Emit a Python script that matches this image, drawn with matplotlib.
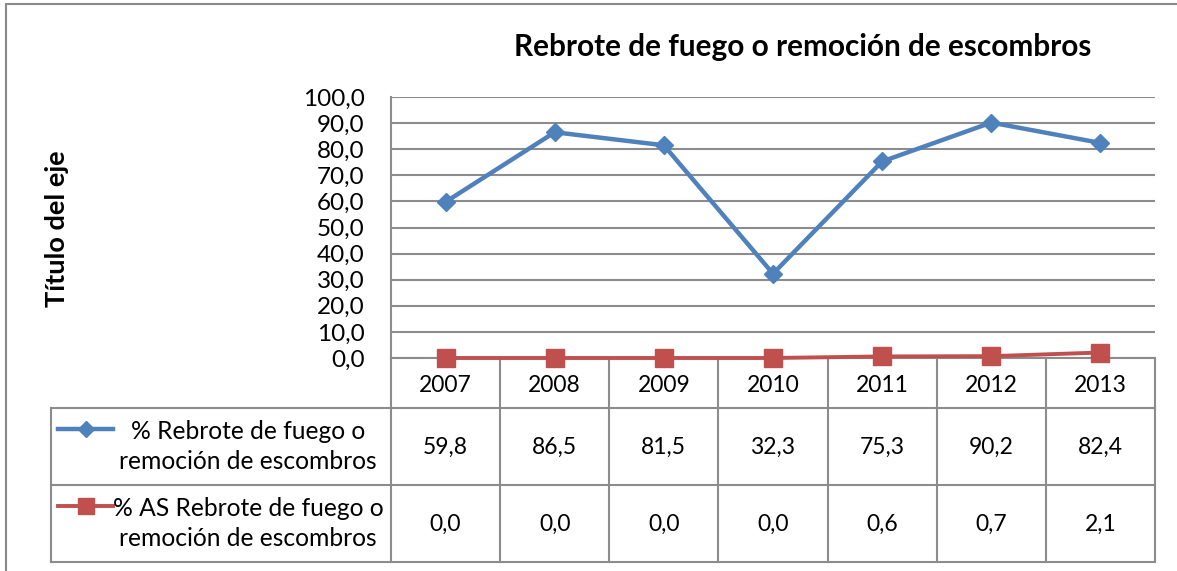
import numpy as np
import matplotlib
matplotlib.use("Agg")
import matplotlib.pyplot as plt
import matplotlib.transforms as mtransforms
from matplotlib.lines import Line2D
from matplotlib.patches import Rectangle

plt.rcParams['font.family'] = ['Lato', 'DejaVu Sans']

# data
years = ['2007', '2008', '2009', '2010', '2011', '2012', '2013']
rebrote = [59.8, 86.5, 81.5, 32.3, 75.3, 90.2, 82.4]
as_rebrote = [0.0, 0.0, 0.0, 0.0, 0.6, 0.7, 2.1]
series_names = ['% Rebrote de fuego o\nremoción de escombros',
                '% AS Rebrote de fuego o\nremoción de escombros']
title = 'Rebrote de fuego o remoción de escombros'
ylabel = 'Título del eje'
yticks = np.arange(0, 101, 10)

blue = '#4F81BD'
red = '#C0504D'
grid_col = '#8C8C8C'

W, H = 1177, 571
fig = plt.figure(figsize=(W / 100, H / 100), dpi=100)

# outer chart frame (right/bottom edges run off the picture)
fig.patches.append(Rectangle((6 / W, -0.1), 1.2, (H - 4) / H + 0.1, transform=fig.transFigure,
                             fill=False, edgecolor='#8A8A8A', linewidth=1.5))

# plot area in pixels
px_l, px_r, px_t, px_b = 391, 1155, 97, 358
ax = fig.add_axes([px_l / W, (H - px_b) / H, (px_r - px_l) / W, (px_b - px_t) / H])
x = np.arange(len(years))
ax.set_xlim(-0.5, len(years) - 0.5)
ax.set_ylim(0, 100)
ax.set_yticks(yticks)
ax.set_yticklabels([f'{v:.1f}'.replace('.', ',') for v in yticks], fontsize=17.5)
ax.tick_params(axis='y', length=0, pad=19)
ax.set_xticks([])
ax.grid(axis='y', color=grid_col, linewidth=1.5)
ax.set_axisbelow(True)
for s in ['top', 'right']:
    ax.spines[s].set_visible(False)
for s in ['left', 'bottom']:
    ax.spines[s].set_color(grid_col)
    ax.spines[s].set_linewidth(1.5)

ax.plot(x, rebrote, color=blue, linewidth=3.2, marker='D', markersize=9.5, clip_on=False, zorder=4)
ax.plot(x, as_rebrote, color=red, linewidth=2.8, marker='s', markersize=13.5, clip_on=False, zorder=5)

fig.text(803 / W, 1 - 47 / H, title, ha='center', va='center', fontsize=21.4, fontweight='bold')
fig.text(57 / W, 1 - 229 / H, ylabel, ha='center', va='center', rotation=90, fontsize=19.5, fontweight='bold')

# data table below the plot
hpx = px_b - px_t
def ay(py):
    return (px_b - py) / hpx
def axx(pxx):
    return (pxx - px_l) / (px_r - px_l)

row_edges = [358, 408, 485, 562]
tab_left = 51
blend = mtransforms.blended_transform_factory(ax.transData, ax.transAxes)
lk = dict(color=grid_col, linewidth=1.5, clip_on=False)

# vertical column lines
for i in range(len(years) + 1):
    ax.add_line(Line2D([i - 0.5, i - 0.5], [ay(row_edges[0]), ay(row_edges[-1])], transform=blend, **lk))
# left of label column
ax.add_line(Line2D([axx(tab_left)] * 2, [ay(row_edges[1]), ay(row_edges[-1])], transform=ax.transAxes, **lk))
# horizontal row lines
for r in row_edges[1:]:
    ax.add_line(Line2D([axx(tab_left), 1], [ay(r)] * 2, transform=ax.transAxes, **lk))

# year header
for i, yr in enumerate(years):
    ax.text(i, ay((row_edges[0] + row_edges[1]) / 2 + 2), yr, transform=blend,
            ha='center', va='center', fontsize=16.5)

# rows
for k, (vals, name, col, mk, ms, lw) in enumerate([
        (rebrote, series_names[0], blue, 'D', 9.5, 3.2),
        (as_rebrote, series_names[1], red, 's', 13.5, 2.8)]):
    top, bot = row_edges[k + 1], row_edges[k + 2]
    mid = (top + bot) / 2
    for i, v in enumerate(vals):
        ax.text(i, ay(mid + 1), f'{v:.1f}'.replace('.', ','), transform=blend,
                ha='center', va='center', fontsize=16.5)
    ax.text(axx(248), ay(mid), name, transform=ax.transAxes, ha='center', va='center',
            fontsize=17.7, linespacing=1.32)
    key_y = ay(mid - 18)
    ax.add_line(Line2D([axx(58), axx(113)], [key_y] * 2, transform=ax.transAxes,
                       color=col, linewidth=lw, clip_on=False))
    ax.add_line(Line2D([axx(85.5)], [key_y], transform=ax.transAxes, color=col,
                       marker=mk, markersize=ms * 0.85, clip_on=False))

fig.savefig('out.png', dpi=100)
